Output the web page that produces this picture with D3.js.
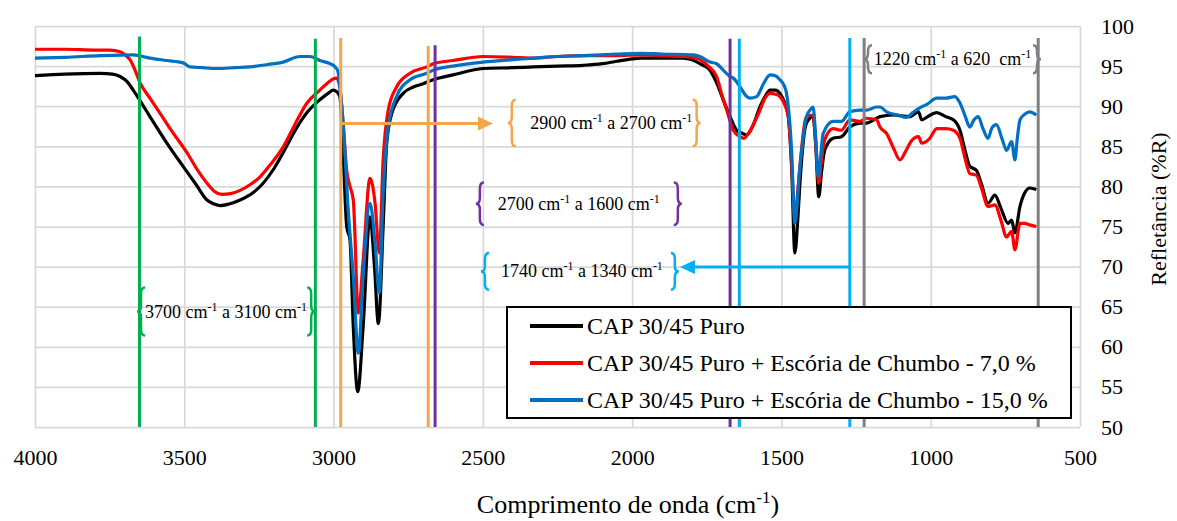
<!DOCTYPE html>
<html>
<head>
<meta charset="utf-8">
<script src="https://cdn.jsdelivr.net/npm/d3@7"></script>
<style>
  body { margin: 0; background: #fff; }
</style>
</head>
<body>
<script>
const width = 1177;
const height = 521;
const FONT = "'Liberation Serif', 'Times New Roman', 'DejaVu Serif', serif";

// wavenumber (cm-1), reflectance (%R)
const puro = [[4000,93.8],[3900,94.0],[3782,94.1],[3740,94.0],[3715,93.7],[3690,93.0],[3671,92.0],[3640,90.2],[3615,88.7],[3560,85.5],[3504,82.5],[3460,80.2],[3424,78.3],[3400,77.8],[3380,77.6],[3350,77.8],[3313,78.3],[3270,79.2],[3236,80.4],[3200,82.2],[3169,84.2],[3130,86.9],[3089,89.2],[3046,90.8],[3015,91.7],[3002,92.0],[2989,91.8],[2979,91.2],[2967,83.3],[2956,75.0],[2945,73.3],[2934,62.5],[2919,54.4],[2901,62.5],[2878,76.2],[2863,70.0],[2850,62.9],[2834,75.0],[2822,85.4],[2805,89.1],[2767,91.6],[2733,92.4],[2700,92.8],[2666,93.3],[2600,93.9],[2499,94.7],[2400,94.8],[2331,94.9],[2250,95.0],[2164,95.1],[2100,95.3],[2052,95.6],[2000,95.9],[1974,96.0],[1900,96.0],[1829,96.0],[1800,95.8],[1773,95.3],[1740,94.5],[1717,92.9],[1695,90.8],[1672,88.7],[1650,87.0],[1630,86.6],[1616,86.4],[1595,87.6],[1572,89.9],[1555,91.2],[1538,92.0],[1520,92.0],[1505,91.6],[1490,90.5],[1477,88.7],[1466,82.5],[1455,71.7],[1445,76.0],[1438,80.4],[1416,87.9],[1394,88.7],[1385,85.0],[1375,78.7],[1365,82.0],[1355,84.5],[1327,86.0],[1299,86.2],[1271,87.4],[1237,87.9],[1215,87.9],[1181,88.5],[1170,88.7],[1126,88.9],[1070,88.7],[1041,89.3],[1030,88.3],[1010,88.7],[980,89.2],[950,88.7],[924,88.3],[902,87.0],[885,84.5],[869,82.5],[847,82.0],[830,80.3],[808,77.9],[785,78.9],[765,77.3],[741,75.4],[729,75.8],[718,74.2],[701,77.5],[685,79.2],[668,79.8],[646,79.6]];

const escoria7 = [[4000,97.1],[3900,97.1],[3800,97.0],[3749,97.0],[3715,96.8],[3695,96.3],[3682,95.8],[3665,94.5],[3648,92.9],[3615,91.0],[3581,89.1],[3540,86.8],[3491,84.2],[3455,82.0],[3424,80.4],[3400,79.4],[3374,79.0],[3345,79.1],[3313,79.5],[3280,80.2],[3246,81.2],[3210,82.8],[3169,84.9],[3130,87.7],[3089,90.4],[3046,92.0],[3020,92.9],[3002,93.4],[2990,93.5],[2979,92.4],[2967,87.4],[2956,82.0],[2945,80.0],[2934,78.3],[2917,64.2],[2901,70.8],[2878,81.0],[2861,77.9],[2847,71.7],[2834,83.3],[2817,89.5],[2789,92.4],[2744,94.1],[2688,94.9],[2666,95.3],[2600,95.7],[2499,96.2],[2400,96.1],[2331,96.0],[2250,96.2],[2164,96.3],[2050,96.3],[1974,96.4],[1900,96.3],[1829,96.2],[1800,96.1],[1773,95.8],[1745,95.0],[1717,93.7],[1700,91.5],[1683,89.5],[1661,87.0],[1639,86.2],[1625,86.0],[1611,86.6],[1590,88.0],[1572,89.5],[1555,91.0],[1538,91.6],[1520,91.5],[1505,91.2],[1490,90.3],[1477,88.7],[1466,83.0],[1455,76.2],[1445,79.5],[1438,82.5],[1416,88.7],[1394,88.9],[1385,85.5],[1375,80.4],[1365,83.5],[1355,85.8],[1327,87.2],[1299,87.0],[1271,88.3],[1237,88.1],[1215,88.5],[1181,88.3],[1170,87.4],[1148,86.6],[1125,84.8],[1103,83.3],[1085,84.3],[1066,85.6],[1041,86.2],[1030,85.4],[1003,86.0],[980,87.2],[950,87.2],[924,87.0],[902,86.0],[885,83.5],[869,81.6],[847,81.4],[830,79.8],[808,77.5],[785,77.7],[765,75.8],[746,73.7],[729,74.4],[718,72.1],[701,75.4],[685,75.4],[668,75.2],[646,75.0]];

const escoria15 = [[4000,96.0],[3900,96.1],[3782,96.3],[3671,96.4],[3615,96.0],[3560,95.7],[3504,95.4],[3481,94.9],[3440,94.8],[3391,94.7],[3330,94.8],[3280,94.9],[3220,95.2],[3169,95.5],[3113,96.2],[3079,96.2],[3046,95.7],[3012,95.3],[2995,94.9],[2985,94.3],[2979,92.4],[2967,87.4],[2951,77.1],[2934,68.8],[2917,59.2],[2901,68.8],[2878,77.9],[2861,72.9],[2847,66.7],[2834,79.1],[2817,87.4],[2789,91.2],[2744,93.3],[2688,94.1],[2666,94.5],[2600,95.0],[2499,95.5],[2400,95.8],[2331,96.0],[2250,96.2],[2164,96.3],[2050,96.5],[1974,96.6],[1900,96.5],[1795,96.4],[1773,96.2],[1739,95.5],[1717,95.3],[1695,94.5],[1672,93.7],[1661,93.5],[1640,92.5],[1616,91.2],[1605,91.0],[1583,91.2],[1560,92.8],[1538,93.9],[1520,93.8],[1505,93.3],[1490,92.5],[1483,91.6],[1466,84.5],[1455,75.4],[1438,82.5],[1416,88.7],[1400,89.7],[1394,89.9],[1385,86.0],[1377,81.2],[1360,86.6],[1327,88.1],[1299,88.1],[1271,89.3],[1237,89.5],[1215,89.5],[1181,89.9],[1170,89.9],[1148,89.3],[1110,88.9],[1081,88.6],[1060,89.2],[1041,89.7],[1010,90.3],[980,91.0],[950,91.0],[919,91.2],[902,90.4],[885,88.8],[869,87.4],[855,88.3],[841,88.7],[825,87.2],[808,86.0],[795,87.3],[780,87.7],[760,85.8],[746,84.5],[729,85.6],[718,83.3],[710,86.0],[701,88.3],[685,89.0],[668,89.3],[646,88.9]];

const seriesNames = ["CAP 30/45 Puro", "CAP 30/45 Puro + Escória de Chumbo - 7,0 %", "CAP 30/45 Puro + Escória de Chumbo - 15,0 %"];
const seriesColors = ["#000000", "#ff0000", "#0070c0"];

const xTicks = [4000, 3500, 3000, 2500, 2000, 1500, 1000, 500];
const yTicks = [50, 55, 60, 65, 70, 75, 80, 85, 90, 95, 100];

// band marker lines: wavenumber, top of line (%R)
const bandLineWn = [3650, 3061, 2976, 2683, 2660, 1672, 1641, 1271, 1223, 640];
const bandLineTop = [98.7, 98.4, 98.5, 97.5, 97.6, 98.4, 98.4, 98.5, 98.5, 98.5];
const bandLineColor = ["#00b050", "#00b050", "#f6a64a", "#f6a64a", "#7030a0", "#7030a0", "#00b0f0", "#00b0f0", "#808080", "#808080"];

// band labels: [from, to] text, brace wavenumbers, brace extent in %R
const bandLabelFrom = ["3700", "2900", "2700", "1740", "1220"];
const bandLabelTo = ["3100", "2700", "1600", "1340", "620 "];
const bandBraceWn = [[3645, 3075], [2403, 1784], [2510, 1847], [2493, 1857], [1210, 644]];
const bandBraceY = [[67.4, 61.4], [90.8, 85.0], [80.5, 75.2], [71.7, 67.1], [97.6, 94.1]];
const bandLabelShift = [0, 7, 0, 2, 0];
const bandLabelColor = ["#00b050", "#f6a64a", "#7030a0", "#00b0f0", "#808080"];

// arrows: from wn, to wn, level %R
const arrowFrom = [2976, 1271];
const arrowTo = [2466, 1840];
const arrowY = [87.85, 69.95];
const arrowColor = ["#f6a64a", "#00b0f0"];

const svg = d3.select("body")
	.append("svg")
	.attr("width", width)
	.attr("height", height)
	.style("font-family", FONT);

const x = d3.scaleLinear().domain([4000, 500]).range([35, 1080]);
const y = d3.scaleLinear().domain([50, 100]).range([427, 26]);

// GRID
svg.append("g")
	.attr("transform", "translate(0,427)")
	.call(d3.axisBottom(x).tickValues(xTicks).tickSize(-401).tickFormat(""))
	.call(g => g.select(".domain").remove())
	.call(g => g.selectAll("line").attr("stroke", "#d9d9d9").attr("stroke-width", 1.75));

svg.append("g")
	.attr("transform", "translate(35,0)")
	.call(d3.axisLeft(y).tickValues(yTicks).tickSize(-1045).tickFormat(""))
	.call(g => g.select(".domain").remove())
	.call(g => g.selectAll("line").attr("stroke", "#d9d9d9").attr("stroke-width", 1.75));

// AXES LABELS
svg.append("g")
	.attr("transform", "translate(0,427)")
	.call(d3.axisBottom(x).tickValues(xTicks).tickSize(0).tickPadding(22).tickFormat(d3.format("d")))
	.attr("font-family", null)
	.call(g => g.select(".domain").remove())
	.call(g => g.selectAll("text").style("font-family", FONT).attr("font-size", "22px").attr("fill", "#000"));

svg.append("g")
	.attr("transform", "translate(1080,0)")
	.call(d3.axisRight(y).tickValues(yTicks).tickSize(0).tickPadding(21).tickFormat(d3.format("d")))
	.attr("font-family", null)
	.call(g => g.select(".domain").remove())
	.call(g => g.selectAll("text").style("font-family", FONT).attr("font-size", "22px").attr("fill", "#000"));

const xTitle = svg.append("text")
	.attr("x", 628)
	.attr("y", 513)
	.attr("text-anchor", "middle")
	.style("font-family", FONT)
	.attr("font-size", "26px");
xTitle.append("tspan").text("Comprimento de onda (cm");
xTitle.append("tspan").attr("font-size", "17px").attr("dy", -10).text("-1");
xTitle.append("tspan").attr("dy", 10).text(")");

svg.append("text")
	.attr("transform", "translate(1166,209) rotate(-90)")
	.attr("text-anchor", "middle")
	.style("font-family", FONT)
	.attr("font-size", "22px")
	.text("Refletância (%R)");

// SPECTRA
const lineGen = d3.line()
	.x(d => x(d[0]))
	.y(d => y(d[1]))
	.curve(d3.curveMonotoneX);

[puro, escoria7, escoria15].forEach(function (s, i) {
	svg.append("path")
		.attr("d", lineGen(s))
		.attr("fill", "none")
		.attr("stroke", seriesColors[i])
		.attr("stroke-width", 3.2)
		.attr("stroke-linejoin", "round");
});

// BAND LINES
bandLineWn.forEach(function (wn, i) {
	svg.append("line")
		.attr("x1", x(wn)).attr("x2", x(wn))
		.attr("y1", y(bandLineTop[i])).attr("y2", y(50))
		.attr("stroke", bandLineColor[i])
		.attr("stroke-width", 3);
});

// ARROWS
arrowFrom.forEach(function (wn, i) {
	const x0 = x(wn), x1 = x(arrowTo[i]), yy = y(arrowY[i]);
	const dir = x1 > x0 ? 1 : -1;
	svg.append("line")
		.attr("x1", x0).attr("x2", x1 - dir * 12)
		.attr("y1", yy).attr("y2", yy)
		.attr("stroke", arrowColor[i])
		.attr("stroke-width", 3);
	svg.append("path")
		.attr("d", `M${x1},${yy} L${x1 - dir * 15},${yy - 7} L${x1 - dir * 15},${yy + 7} Z`)
		.attr("fill", arrowColor[i]);
});

// BRACES
function bracePath(xp, y0, y1, dir) {
	const w = 4;
	const xe = xp - dir * w;
	const xt = xp + dir * w;
	const ym = (y0 + y1) / 2;
	const r = Math.min(6, (y1 - y0) / 4);
	return `M${xe},${y0} Q${xp},${y0} ${xp},${y0 + r} L${xp},${ym - r} Q${xp},${ym} ${xt},${ym} ` +
		`Q${xp},${ym} ${xp},${ym + r} L${xp},${y1 - r} Q${xp},${y1} ${xe},${y1}`;
}

bandLabelFrom.forEach(function (from, i) {
	const xl = x(bandBraceWn[i][0]), xr = x(bandBraceWn[i][1]);
	const y0 = y(bandBraceY[i][0]), y1 = y(bandBraceY[i][1]);
	[[xl, -1], [xr, 1]].forEach(function (b) {
		svg.append("path")
			.attr("d", bracePath(b[0], y0, y1, b[1]))
			.attr("fill", "none")
			.attr("stroke", bandLabelColor[i])
			.attr("stroke-width", 2.5);
	});
	const t = svg.append("text")
		.attr("x", (xl + xr) / 2 + bandLabelShift[i])
		.attr("y", (y0 + y1) / 2 + 6)
		.attr("text-anchor", "middle")
		.style("font-family", FONT)
		.style("white-space", "pre")
		.attr("font-size", "18px");
	t.append("tspan").text(from + " cm");
	t.append("tspan").attr("font-size", "12px").attr("dy", -7).text("-1");
	t.append("tspan").attr("dy", 7).text(" a " + bandLabelTo[i] + " cm");
	t.append("tspan").attr("font-size", "12px").attr("dy", -7).text("-1");
});

// LEGEND
const legend = svg.append("g");
legend.append("rect")
	.attr("x", 507).attr("y", 307)
	.attr("width", 564).attr("height", 111)
	.attr("fill", "#fff")
	.attr("stroke", "#000")
	.attr("stroke-width", 2);

seriesNames.forEach(function (name, i) {
	const ry = 326 + i * 37;
	legend.append("line")
		.attr("x1", 530).attr("x2", 583)
		.attr("y1", ry).attr("y2", ry)
		.attr("stroke", seriesColors[i])
		.attr("stroke-width", 4);
	legend.append("text")
		.attr("x", 587)
		.attr("y", ry + 8)
		.style("font-family", FONT)
		.attr("font-size", "24px")
		.text(name);
});
</script>
</body>
</html>
